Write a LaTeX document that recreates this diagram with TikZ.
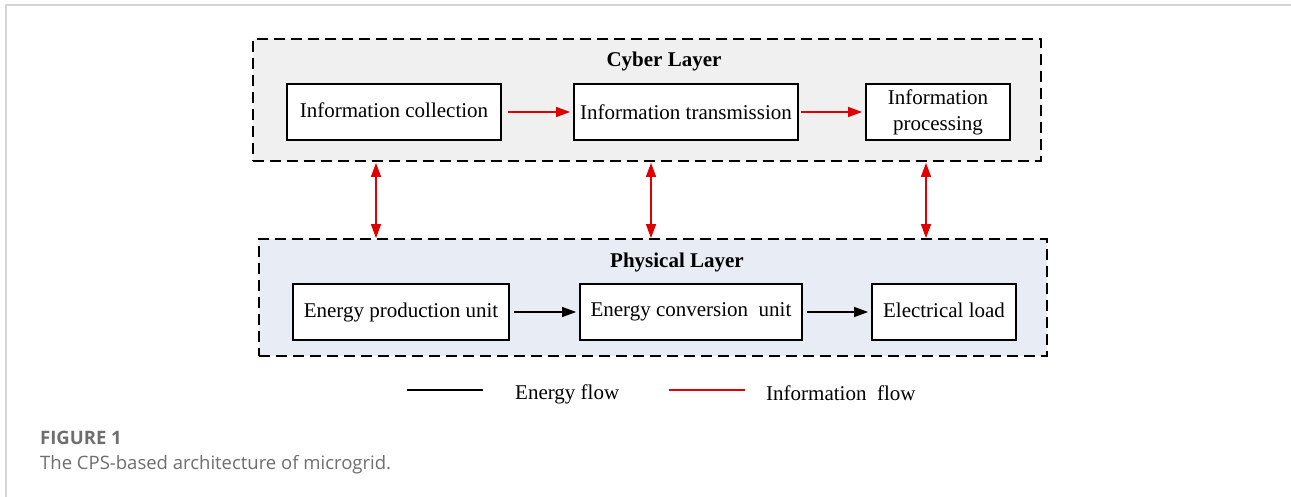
\documentclass[tikz,border=0pt]{standalone}
\usepackage{fontspec}
\setmainfont{Liberation Serif}
\newfontfamily\capfont{Open Sans}
\usetikzlibrary{arrows.meta}
\definecolor{cyberfill}{HTML}{F0F0F0}
\definecolor{physfill}{HTML}{E8EDF5}
\definecolor{infored}{HTML}{E00000}
\definecolor{framegray}{HTML}{D4D4D4}
\definecolor{captiongray}{HTML}{6E6E6E}
\tikzset{
  layerbox/.style={draw=black, line width=1.8pt, dash pattern=on 11pt off 6pt, inner sep=0pt},
  unitbox/.style={draw=black, fill=white, line width=1.8pt, inner sep=2pt, align=center,
                  font=\fontsize{21}{26}\selectfont},
  layertitle/.style={font=\fontsize{21}{26}\selectfont\bfseries},
  infoarrow/.style={draw=infored, line width=1.4pt, -{Triangle[length=14pt,width=10pt]}},
  infodouble/.style={draw=infored, line width=1.4pt, {Triangle[length=14pt,width=10pt]}-{Triangle[length=14pt,width=10pt]}},
  energyarrow/.style={draw=black, line width=1.2pt, -{Triangle[length=14pt,width=10pt]}},
  legendtext/.style={font=\fontsize{21}{26}\selectfont},
  captionhead/.style={font=\capfont\fontsize{18.5}{22}\selectfont\bfseries, text=captiongray, anchor=west, inner sep=0pt},
  captionbody/.style={font=\capfont\fontsize{18.5}{22}\selectfont, text=captiongray, anchor=west, inner sep=0pt},
}
\newcommand{\lift}[1]{\raisebox{3pt}{#1}}
\begin{document}
\begin{tikzpicture}[x=1pt, y=-1pt]
  \useasboundingbox (0,0) rectangle (1291,497);
  \fill[white] (0,0) rectangle (1291,497);
  % page frame
  \draw[framegray, line width=1.5pt] (6,497) -- (6,5) -- (1291,5);

  % layers
  \node[layerbox, fill=cyberfill, minimum width=788pt, minimum height=122pt] (cyber) at (647,100) {};
  \node[layerbox, fill=physfill, minimum width=788pt, minimum height=117pt] (phys) at (653,297.5) {};
  \node[layertitle] (cybertitle) at (664,61) {Cyber Layer};
  \node[layertitle] (phystitle) at (677,262) {Physical Layer};

  % cyber units
  \node[unitbox, minimum width=214pt, minimum height=56pt] (collect) at (394,112) {\lift{Information collection}};
  \node[unitbox, minimum width=224pt, minimum height=56pt] (transmit) at (686,112) {Information transmission};
  \node[unitbox, minimum width=144pt, minimum height=56pt] (process) at (938,112) {Information\\processing};

  % physical units
  \node[unitbox, minimum width=216pt, minimum height=56pt] (produce) at (401,312) {\lift{Energy production unit}};
  \node[unitbox, minimum width=222pt, minimum height=56pt] (convert) at (691,312) {\lift{Energy conversion\ \ unit}};
  \node[unitbox, minimum width=144pt, minimum height=56pt] (load) at (944,312) {\lift{Electrical load}};

  % information flow inside cyber layer
  \draw[infoarrow, shorten <=6pt, shorten >=3pt] (collect.east) -- (collect.east -| transmit.west);
  \draw[infoarrow, shorten <=2pt, shorten >=3pt] (transmit.east) -- (process.west);

  % energy flow inside physical layer
  \draw[energyarrow, shorten <=4pt, shorten >=3pt] (produce.east) -- (convert.west);
  \draw[energyarrow, shorten <=4pt, shorten >=3pt] (convert.east) -- (load.west);

  % cyber <-> physical links
  \coordinate (l1) at (376,0);
  \coordinate (l2) at (651,0);
  \coordinate (l3) at (926,0);
  \draw[infodouble, shorten <=1pt] (cyber.south -| l1) -- (phys.north -| l1);
  \draw[infodouble, shorten <=1pt] (cyber.south -| l2) -- (phys.north -| l2);
  \draw[infodouble, shorten <=1pt] (cyber.south -| l3) -- (phys.north -| l3);

  % legend
  \coordinate (ea) at (407,390);
  \coordinate (eb) at (483,390);
  \coordinate (ia) at (669,390);
  \coordinate (ib) at (745,390);
  \draw[black, line width=1.4pt] (ea) -- (eb);
  \draw[infored, line width=1.4pt] (ia) -- (ib);
  \node[legendtext, anchor=west, inner sep=0pt] (elabel) at (515,394) {Energy flow};
  \node[legendtext, anchor=west, inner sep=0pt] (ilabel) at (766,393) {Information\ \ flow};

  % caption
  \node[captionhead] (fighead) at (40,438) {FIGURE 1};
  \node[captionbody] (figbody) at (40,465) {The CPS-based architecture of microgrid.};
\end{tikzpicture}
\end{document}
